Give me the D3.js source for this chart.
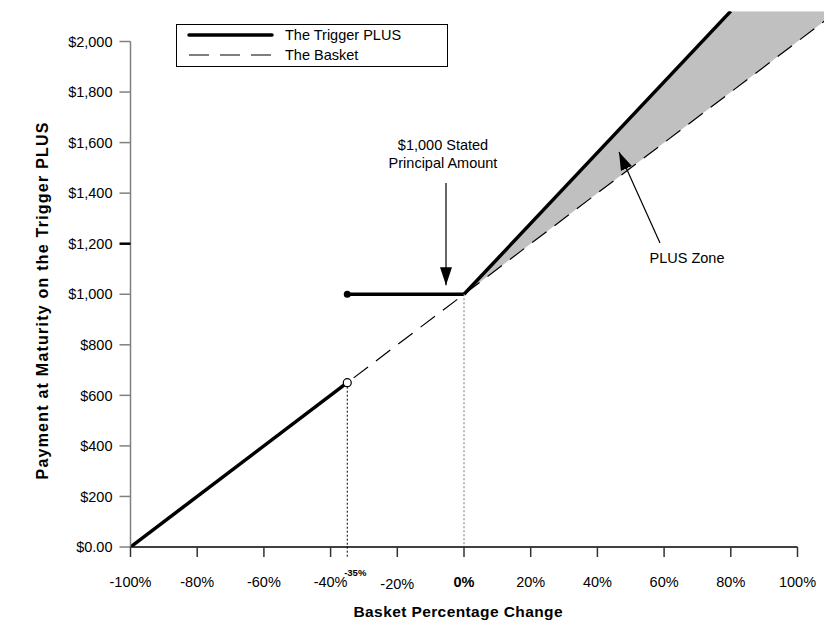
<!DOCTYPE html>
<html>
<head>
<meta charset="utf-8">
<style>
  body { margin: 0; background: #fff; }
  svg text { font-family: "Liberation Sans", Arial, sans-serif; fill: #000; }
</style>
</head>
<body>
<svg id="chart"></svg>
<script src="https://cdn.jsdelivr.net/npm/d3@7/dist/d3.min.js"></script>
<script>
  const width = 832, height = 629

  // data (basket % change, payment in $)
  const xTicks = [-100, -80, -60, -40, -20, 0, 20, 40, 60, 80, 100]
  const yTicks = [0, 200, 400, 600, 800, 1000, 1200, 1400, 1600, 1800, 2000]
  const triggerLevel = -35
  const principal = 1000
  const triggerBelow = [[-100, 0], [-35, 650]]
  const triggerFlat = [[-35, 1000], [0, 1000]]
  const triggerUp = [[0, 1000], [80, 2120]]
  const basketLine = [[-100, 0], [108, 2080]]
  const plusZone = [[0, 1000], [80, 2120], [108, 2120], [108, 2080]]
  const legendItems = ["The Trigger PLUS", "The Basket"]

  const x = d3.scaleLinear().domain([-100, 100]).range([130.5, 797.5])
  const y = d3.scaleLinear().domain([0, 2000]).range([547, 41.5])

  const svg = d3.select("#chart").attr("width", width).attr("height", height)

  svg.append("clipPath").attr("id", "plotClip")
    .append("rect")
      .attr("x", x(-100)).attr("y", y(2120))
      .attr("width", x(108) - x(-100)).attr("height", y(0) - y(2120))

  const plot = svg.append("g").attr("clip-path", "url(#plotClip)")
  const line = d3.line().x(d => x(d[0])).y(d => y(d[1]))

  // PLUS zone shading
  plot.append("path")
    .attr("d", line(plusZone) + "Z")
    .attr("fill", "#c0c0c0")

  // guide lines
  svg.append("line")
    .attr("x1", x(triggerLevel)).attr("x2", x(triggerLevel))
    .attr("y1", y(650)).attr("y2", y(0) + 11)
    .attr("stroke", "#000").attr("stroke-width", 1).attr("stroke-dasharray", "2,2")
  svg.append("line")
    .attr("x1", x(0)).attr("x2", x(0))
    .attr("y1", y(principal)).attr("y2", y(0))
    .attr("stroke", "#777").attr("stroke-width", 1).attr("stroke-dasharray", "2,2")

  // basket (dashed)
  plot.append("path")
    .attr("d", line(basketLine))
    .attr("fill", "none").attr("stroke", "#000").attr("stroke-width", 1.2)
    .attr("stroke-dasharray", "18,10")

  // trigger PLUS payoff
  ;[triggerBelow, triggerFlat, triggerUp].forEach(seg => {
    plot.append("path")
      .attr("d", line(seg))
      .attr("fill", "none").attr("stroke", "#000").attr("stroke-width", 3.5)
  })

  // axes
  const yAxisG = svg.append("g")
  yAxisG.append("line")
    .attr("x1", x(-100)).attr("x2", x(-100))
    .attr("y1", y(2000)).attr("y2", y(0))
    .attr("stroke", "#808080").attr("stroke-width", 1.5)
  yAxisG.selectAll(".ytick").data(yTicks).enter().append("line")
    .attr("x1", x(-100) - 11).attr("x2", x(-100))
    .attr("y1", d => y(d)).attr("y2", d => y(d))
    .attr("stroke", d => d === 1200 ? "#000" : "#808080")
    .attr("stroke-width", d => d === 1200 ? 2.5 : 1.5)
  yAxisG.selectAll(".ylab").data(yTicks).enter().append("text")
    .attr("x", x(-100) - 18).attr("y", d => y(d))
    .attr("dy", "0.36em")
    .attr("text-anchor", "end")
    .style("font-size", "14.5px")
    .text(d => d === 0 ? "$0.00" : d3.format("$,")(d))

  const xAxisG = svg.append("g")
  xAxisG.append("line")
    .attr("x1", x(-100)).attr("x2", x(100))
    .attr("y1", y(0)).attr("y2", y(0))
    .attr("stroke", "#000").attr("stroke-width", 1.5)
  xAxisG.selectAll(".xtick").data(xTicks).enter().append("line")
    .attr("x1", d => x(d)).attr("x2", d => x(d))
    .attr("y1", y(0)).attr("y2", y(0) + 10)
    .attr("stroke", "#333").attr("stroke-width", 1.5)
  xAxisG.selectAll(".xlab").data(xTicks).enter().append("text")
    .attr("x", d => x(d)).attr("y", d => y(0) + (d === -20 ? 42 : 40))
    .attr("text-anchor", "middle")
    .style("font-size", "14.5px")
    .style("font-weight", d => d === 0 ? "bold" : "normal")
    .text(d => d + "%")
  xAxisG.append("text")
    .attr("x", x(triggerLevel) + 8).attr("y", y(0) + 29)
    .attr("text-anchor", "middle")
    .style("font-size", "9.5px")
    .style("font-weight", "bold")
    .text(triggerLevel + "%")

  // markers
  svg.append("circle")
    .attr("cx", x(triggerLevel)).attr("cy", y(principal)).attr("r", 3.5)
    .attr("fill", "#000")
  svg.append("circle")
    .attr("cx", x(triggerLevel)).attr("cy", y(650)).attr("r", 4)
    .attr("fill", "#fff").attr("stroke", "#000").attr("stroke-width", 1.2)

  // axis titles
  svg.append("text")
    .attr("transform", `translate(48, 301) rotate(-90)`)
    .attr("text-anchor", "middle")
    .attr("textLength", 357).attr("lengthAdjust", "spacing")
    .style("font-size", "16px").style("font-weight", "bold")
    .text("Payment at Maturity on the Trigger PLUS")
  svg.append("text")
    .attr("x", 458).attr("y", 617)
    .attr("text-anchor", "middle")
    .attr("textLength", 209).attr("lengthAdjust", "spacing")
    .style("font-size", "15.5px").style("font-weight", "bold")
    .text("Basket Percentage Change")

  // annotations
  svg.append("defs").append("marker")
    .attr("id", "head").attr("viewBox", "0 0 18 12")
    .attr("refX", 18).attr("refY", 6)
    .attr("markerWidth", 18).attr("markerHeight", 12)
    .attr("markerUnits", "userSpaceOnUse")
    .attr("orient", "auto")
    .append("path").attr("d", "M0,0L18,6L0,12Z").attr("fill", "#000")

  const ann = svg.append("g")
  ann.append("text").attr("x", 443).attr("y", 150)
    .attr("text-anchor", "middle").style("font-size", "14.5px").text("$1,000 Stated")
  ann.append("text").attr("x", 443).attr("y", 168)
    .attr("text-anchor", "middle").style("font-size", "14.5px").text("Principal Amount")
  ann.append("line")
    .attr("x1", 446).attr("y1", 183).attr("x2", 446).attr("y2", y(principal) - 9)
    .attr("stroke", "#000").attr("stroke-width", 1.2)
    .attr("marker-end", "url(#head)")

  ann.append("text").attr("x", 687).attr("y", 263)
    .attr("text-anchor", "middle").style("font-size", "14.5px").text("PLUS Zone")
  ann.append("line")
    .attr("x1", 660).attr("y1", 243).attr("x2", 619).attr("y2", 152)
    .attr("stroke", "#000").attr("stroke-width", 1.2)
    .attr("marker-end", "url(#head)")

  // legend
  const legend = svg.append("g")
  legend.append("rect")
    .attr("x", 176.5).attr("y", 24.5).attr("width", 271).attr("height", 42)
    .attr("fill", "#fff").attr("stroke", "#000").attr("stroke-width", 1)
  legend.append("line")
    .attr("x1", 189).attr("x2", 272).attr("y1", 35).attr("y2", 35)
    .attr("stroke", "#000").attr("stroke-width", 3.5).attr("stroke-linecap", "round")
  legend.append("line")
    .attr("x1", 189).attr("x2", 271).attr("y1", 55).attr("y2", 55)
    .attr("stroke", "#000").attr("stroke-width", 1.2).attr("stroke-dasharray", "20,11")
  legend.selectAll(".ltext").data(legendItems).enter().append("text")
    .attr("x", 285).attr("y", (d, i) => 35 + i * 20)
    .attr("dy", "0.36em")
    .style("font-size", "14.5px")
    .text(d => d)
</script>
</body>
</html>
